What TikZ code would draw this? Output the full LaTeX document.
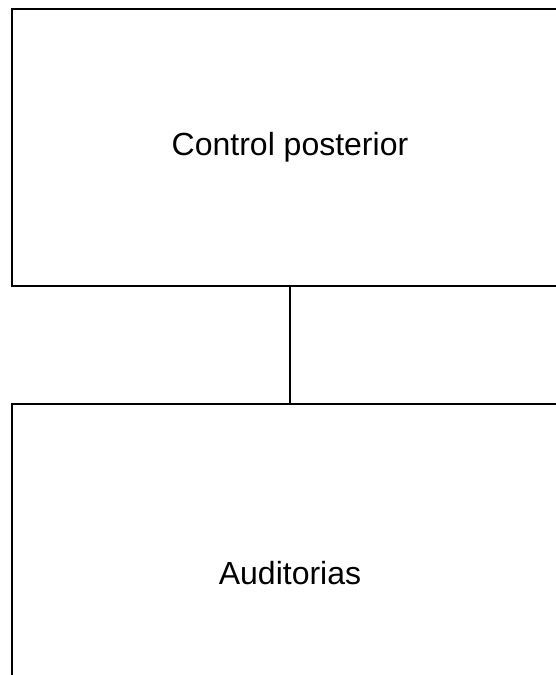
\documentclass[tikz,border=0pt]{standalone}
\usepackage{fontspec}
\setmainfont{Liberation Sans}
\usetikzlibrary{positioning}

\begin{document}
\begin{tikzpicture}[
		x=1pt, y=1pt,
		unitbox/.style={rectangle, draw, line width=2pt, minimum width=556pt, minimum height=#1, inner sep=0pt},
		node distance=116pt,
		font=\fontsize{32}{38}\selectfont
		]
		\useasboundingbox (0,0) rectangle (556,-675);
		\clip (0,0) rectangle (556,-675);
		% Control posterior
		\node[unitbox=277pt, anchor=north west] (ctrl) at (11,-8) {Control posterior};
		% Auditorias
		\node[unitbox=338pt] (audit) [below=116pt of ctrl.south, anchor=north] {Auditorias};
		\draw[line width=2pt] (ctrl.south) -- (audit.north);
	\end{tikzpicture}
\end{document}
